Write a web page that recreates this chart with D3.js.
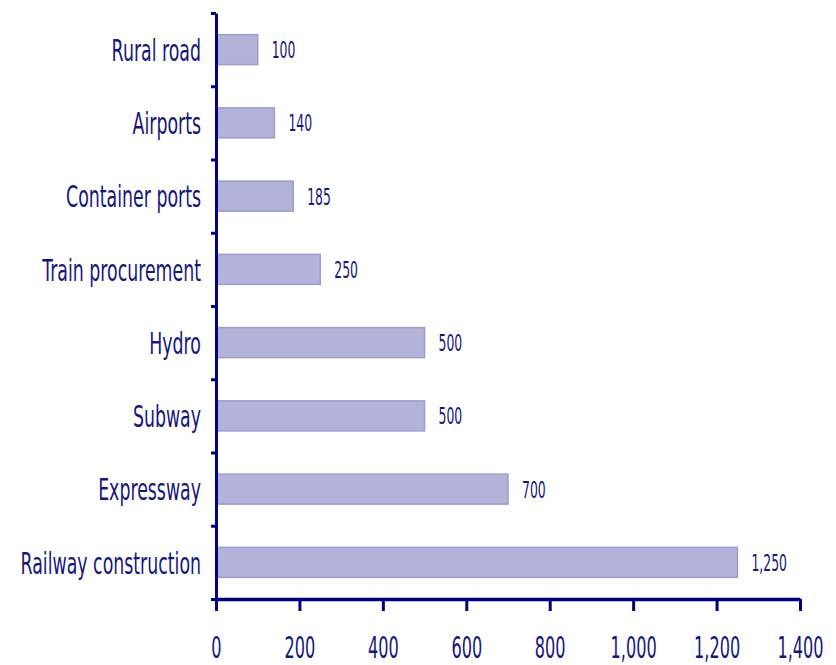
<!DOCTYPE html>
<html>
<head>
<meta charset="utf-8">
<script src="https://cdn.jsdelivr.net/npm/d3@7"></script>
<style>
  html, body { margin: 0; padding: 0; background: #ffffff; }
  svg { display: block; }
</style>
</head>
<body>
<div id="chart"></div>
<script>
// Investment by infrastructure sector
const categories = [
  "Rural road",
  "Airports",
  "Container ports",
  "Train procurement",
  "Hydro",
  "Subway",
  "Expressway",
  "Railway construction"
];
const values = [100, 140, 185, 250, 500, 500, 700, 1250];
const xTicks = [0, 200, 400, 600, 800, 1000, 1200, 1400];

const W = 836, H = 665;
const plotLeft = 216, plotRight = 800, plotTop = 13, plotBottom = 599;
const navy = "#000080";
const textColor = "#17177a";

const svg = d3.select("#chart").append("svg")
  .attr("width", W).attr("height", H);

const x = d3.scaleLinear().domain([0, 1400]).range([plotLeft, plotRight]);
const y = d3.scaleBand().domain(categories).range([plotTop, plotBottom])
  .paddingInner(0.59).paddingOuter(0.295);
// category boundaries for the left-axis tick marks
const yEdge = d3.scaleLinear().domain([0, categories.length]).range([plotTop, plotBottom]);

// bars
svg.append("g").selectAll("rect")
  .data(categories)
  .join("rect")
  .attr("x", x(0))
  .attr("y", d => y(d))
  .attr("width", (d, i) => x(values[i]) - x(0))
  .attr("height", y.bandwidth())
  .attr("fill", "#b3b3d9")
  .attr("stroke", "#9d9dcc")
  .attr("stroke-width", 1.5);

// value labels
const valFmt = d3.format(",");
svg.append("g").selectAll("text")
  .data(categories)
  .join("text")
  .attr("transform", (d, i) =>
    `translate(${x(values[i]) + 14},${y(d) + y.bandwidth() / 2}) scale(0.54,1)`)
  .attr("dy", "0.37em")
  .attr("font-family", "DejaVu Sans, Verdana, sans-serif")
  .attr("font-size", 23)
  .attr("fill", textColor)
  .text((d, i) => valFmt(values[i]));

// category labels
svg.append("g").selectAll("text")
  .data(categories)
  .join("text")
  .attr("transform", d =>
    `translate(${plotLeft - 15},${y(d) + y.bandwidth() / 2}) scale(0.56,1)`)
  .attr("dy", "0.36em")
  .attr("text-anchor", "end")
  .attr("font-family", "DejaVu Sans, Verdana, sans-serif")
  .attr("font-size", 31)
  .attr("fill", textColor)
  .text(d => d);

// left axis with ticks at category boundaries
const yAxis = svg.append("g")
  .attr("transform", `translate(${plotLeft},0)`)
  .call(d3.axisLeft(yEdge)
    .tickValues(d3.range(categories.length + 1))
    .tickSize(5)
    .tickSizeOuter(0)
    .tickFormat(""));
yAxis.select(".domain").attr("stroke", navy).attr("stroke-width", 3);
yAxis.selectAll(".tick line").attr("stroke", navy).attr("stroke-width", 3);

// bottom axis
const xAxis = svg.append("g")
  .attr("transform", `translate(0,${plotBottom})`)
  .call(d3.axisBottom(x)
    .tickValues(xTicks)
    .tickSize(12)
    .tickSizeOuter(0)
    .tickFormat(d3.format(",")));
xAxis.select(".domain").attr("stroke", navy).attr("stroke-width", 3.5);
xAxis.selectAll(".tick line").attr("stroke", navy).attr("stroke-width", 3);
xAxis.selectAll(".tick text")
  .attr("y", 0)
  .attr("dy", 0)
  .attr("transform", "translate(0,59) scale(0.52,1)")
  .attr("font-family", "DejaVu Sans, Verdana, sans-serif")
  .attr("font-size", 31)
  .attr("fill", textColor);
</script>
</body>
</html>
